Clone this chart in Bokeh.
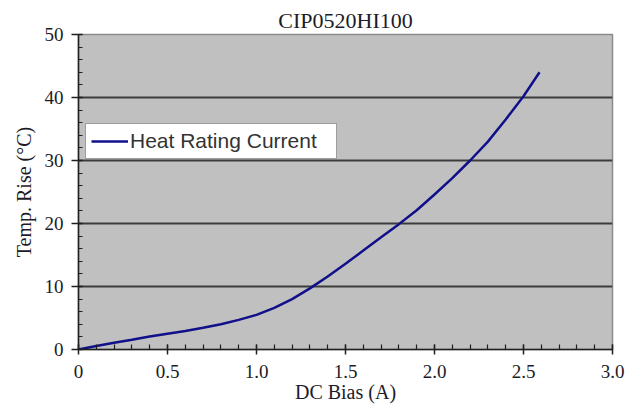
from bokeh.plotting import figure
from bokeh.models import Range1d, FixedTicker, Legend, LegendItem
from bokeh.embed import file_html
from bokeh.resources import INLINE

# Data
dc_bias = [0.0, 0.1, 0.2, 0.3, 0.4, 0.5, 0.6, 0.7, 0.8, 0.9, 1.0, 1.1, 1.2, 1.3,
           1.4, 1.5, 1.6, 1.7, 1.8, 1.9, 2.0, 2.1, 2.2, 2.3, 2.4, 2.5, 2.59]
temp_rise = [0.0, 0.55, 1.06, 1.55, 2.05, 2.5, 2.95, 3.45, 4.0, 4.7, 5.5, 6.6, 8.0, 9.7,
             11.6, 13.6, 15.7, 17.8, 19.9, 22.1, 24.6, 27.2, 30.0, 33.0, 36.5, 40.2, 44.0]

x_ticks = [0, 0.5, 1.0, 1.5, 2.0, 2.5, 3.0]
x_tick_labels = ["0", "0.5", "1.0", "1.5", "2.0", "2.5", "3.0"]
y_ticks = [0, 10, 20, 30, 40, 50]
x_minor = [i / 10 for i in range(0, 31)]
y_minor = list(range(0, 51, 2))

title_text = "CIP0520HI100"
series_name = "Heat Rating Current"

SERIF = "Liberation Serif"
TXT = "#1c1c28"

p = figure(width=631, height=407, output_backend="svg", toolbar_location=None,
           x_range=Range1d(0, 3.0), y_range=Range1d(0, 50),
           min_border_left=78, min_border_right=19, min_border_top=34, min_border_bottom=58)

p.title.text = title_text
p.title.align = "center"
p.title.text_font = SERIF
p.title.text_font_size = "22px"
p.title.text_font_style = "normal"
p.title.text_color = TXT
p.title.standoff = 3

p.background_fill_color = "#c0c0c0"
p.border_fill_color = "white"
p.outline_line_color = "#8a8a8a"
p.outline_line_width = 1.5

# grid
p.xgrid.visible = False
p.ygrid.grid_line_color = "#3c3c3c"
p.ygrid.grid_line_width = 2

# axes
p.xaxis.ticker = FixedTicker(ticks=x_ticks, minor_ticks=x_minor)
p.xaxis.major_label_overrides = {t: l for t, l in zip(x_ticks, x_tick_labels)}
p.yaxis.ticker = FixedTicker(ticks=y_ticks, minor_ticks=y_minor)
p.ygrid.ticker = FixedTicker(ticks=y_ticks)

for ax in (p.xaxis[0], p.yaxis[0]):
    ax.axis_line_color = "#202020"
    ax.axis_line_width = 1.5
    ax.major_tick_line_color = "#202020"
    ax.major_tick_line_width = 1.5
    ax.minor_tick_line_color = "#202020"
    ax.minor_tick_line_width = 1.2
    ax.major_label_text_font = SERIF
    ax.major_label_text_font_size = "19px"
    ax.major_label_text_color = TXT
    ax.axis_label_text_font = SERIF
    ax.axis_label_text_font_size = "20px"
    ax.axis_label_text_font_style = "normal"
    ax.axis_label_text_color = TXT

p.xaxis.axis_label = "DC Bias (A)"
p.yaxis.axis_label = "Temp. Rise (°C)"

p.xaxis.major_tick_in = 5
p.xaxis.major_tick_out = 5
p.xaxis.minor_tick_in = 5
p.xaxis.minor_tick_out = 0
p.xaxis.major_label_standoff = 10
p.xaxis.axis_label_standoff = 0

p.yaxis.major_tick_in = 4
p.yaxis.major_tick_out = 7
p.yaxis.minor_tick_in = 4
p.yaxis.minor_tick_out = 0
p.yaxis.major_label_standoff = 8
p.yaxis.axis_label_standoff = 7

r = p.line(dc_bias, temp_rise, line_color="#10108a", line_width=2.5)

legend = Legend(items=[LegendItem(label=series_name, renderers=[r])],
                location=(7, 190))
legend.label_text_font = "'Liberation Sans Narrow', 'Liberation Sans'"
legend.label_text_font_size = "21px"
legend.label_text_color = "#333333"
legend.glyph_width = 37
legend.label_standoff = 2
legend.padding = 5
legend.margin = 0
legend.label_width = 201
legend.border_line_color = "#3c3c3c"
legend.border_line_width = 1.5
legend.background_fill_color = "white"
legend.background_fill_alpha = 1.0
p.add_layout(legend, "center")

open("out.html", "w").write(file_html(p, INLINE))
